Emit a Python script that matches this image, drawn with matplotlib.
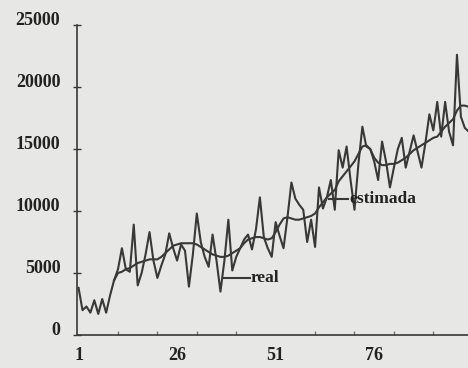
import matplotlib.pyplot as plt
import numpy as np

# period index 1..100
periods = np.arange(1, 101)

real = [3800, 2000, 2300, 1800, 2800, 1700, 2900, 1800, 3200, 4400,
        5300, 7000, 5300, 5100, 8900, 4000, 5000, 6500, 8300, 6000,
        4600, 5600, 6500, 8200, 7000, 6000, 7300, 6800, 3900, 6500,
        9800, 7500, 6300, 5500, 8100, 6000, 3500, 6000, 9300, 5200,
        6300, 7000, 7700, 8100, 6900, 8500, 11100, 7900, 7000, 6300,
        9100, 8000, 7000, 9500, 12300, 11000, 10500, 10100, 7500, 9300,
        7100, 11900, 10200, 11100, 12500, 10100, 14900, 13500, 15200, 12500,
        10100, 13800, 16800, 15200, 15000, 14000, 12500, 15600, 14000, 11900,
        13500, 15000, 15900, 13500, 14800, 16100, 14800, 13500, 15500, 17800,
        16500, 18800, 16000, 18800, 16400, 15300, 22600, 17600, 16700, 16400]

estimada = [np.nan] * 9 + [
        4400, 5000, 5100, 5300, 5400, 5600, 5800, 5900, 6000, 6100,
        6100, 6100, 6300, 6600, 6900, 7200, 7300, 7400, 7400, 7400,
        7400, 7300, 7100, 6900, 6700, 6500, 6400, 6300, 6300, 6400,
        6600, 6800, 7000, 7400, 7700, 7800, 7900, 7900, 7800, 7700,
        7800, 8300, 8900, 9400, 9500, 9400, 9300, 9300, 9400, 9500,
        9600, 9800, 10300, 10700, 11100, 11400, 11700, 12400, 12800, 13200,
        13600, 14000, 14600, 15200, 15300, 15000, 14300, 13900, 13700, 13700,
        13800, 13800, 13900, 14100, 14300, 14600, 14900, 15100, 15300, 15500,
        15700, 15900, 16000, 16400, 16800, 17100, 17400, 18100, 18500, 18500,
        18400]

y_ticks = [0, 5000, 10000, 15000, 20000, 25000]
x_labels = [1, 26, 51, 76]
x_minor = [11, 21, 31, 41, 51, 61, 71, 81, 91]

bg = '#e7e7e5'
ink = '#383838'
font = ['Liberation Serif', 'DejaVu Serif']

fig = plt.figure(figsize=(4.68, 3.68), dpi=100, facecolor=bg)
ax = fig.add_axes([0.1645, 0.0897, 0.8355, 0.8423], facecolor=bg)

ax.plot(periods, real, color=ink, linewidth=1.5)
ax.plot(periods, estimada, color=ink, linewidth=1.5)

ax.set_xlim(0.6, 99.8)
ax.set_ylim(0, 25000)

for s in ['top', 'right']:
    ax.spines[s].set_visible(False)
ax.spines['left'].set_color(ink)
ax.spines['bottom'].set_color(ink)
ax.spines['left'].set_linewidth(1.2)
ax.spines['bottom'].set_linewidth(1.2)

ax.set_yticks(y_ticks)
ax.set_yticklabels([str(v) for v in y_ticks], family=font, fontsize=13,
                   weight='bold', color='#222222', va='baseline')
ax.tick_params(axis='y', direction='inout', length=6, width=1, colors=ink,
               pad=9, labelcolor='#222222')

ax.set_xticks(x_labels)
ax.set_xticklabels([str(v) for v in x_labels], family=font, fontsize=13,
                   weight='bold', color='#222222')
ax.set_xticks(x_minor, minor=True)
ax.tick_params(axis='x', which='major', length=0, pad=9, labelcolor='#222222')
ax.tick_params(axis='x', which='minor', direction='in', length=3, width=1, colors='#777777')

# series labels with leader lines
ax.plot([37.8, 44.4], [4600, 4600], color=ink, linewidth=1.5)
ax.text(44.6, 4600, 'real', family=font, fontsize=12.5, weight='bold',
        color='#222222', va='center', ha='left')
ax.plot([64.5, 69.4], [11000, 11000], color=ink, linewidth=1.5)
ax.text(69.6, 11000, 'estimada', family=font, fontsize=12.5, weight='bold',
        color='#222222', va='center', ha='left')

plt.savefig('out.png', dpi=100, facecolor=bg)
